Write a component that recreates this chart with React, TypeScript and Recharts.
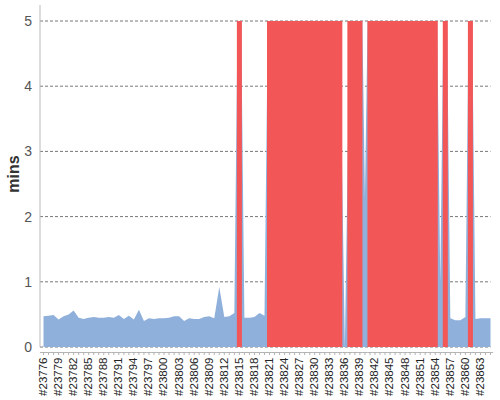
import React from "react";
import { AreaChart, Area, XAxis, YAxis, CartesianGrid } from "recharts";

const builds = [
    "#23776", "#23777", "#23778", "#23779", "#23780", "#23781", "#23782", "#23783", "#23784", "#23785",
    "#23786", "#23787", "#23788", "#23789", "#23790", "#23791", "#23792", "#23793", "#23794", "#23795",
    "#23796", "#23797", "#23798", "#23799", "#23800", "#23801", "#23802", "#23803", "#23804", "#23805",
    "#23806", "#23807", "#23808", "#23809", "#23810", "#23811", "#23812", "#23813", "#23814", "#23815",
    "#23816", "#23817", "#23818", "#23819", "#23820", "#23821", "#23822", "#23823", "#23824", "#23825",
    "#23826", "#23827", "#23828", "#23829", "#23830", "#23831", "#23832", "#23833", "#23834", "#23835",
    "#23836", "#23837", "#23838", "#23839", "#23840", "#23841", "#23842", "#23843", "#23844", "#23845",
    "#23846", "#23847", "#23848", "#23849", "#23850", "#23851", "#23852", "#23853", "#23854", "#23855",
    "#23856", "#23857", "#23858", "#23859", "#23860", "#23861", "#23862", "#23863", "#23864", "#23865",
];

// build time in minutes; failed builds ran past the top of the scale
const durations = [
    0.47, 0.48, 0.49, 0.42, 0.47, 0.5, 0.56, 0.45, 0.43, 0.45,
    0.46, 0.45, 0.45, 0.46, 0.45, 0.49, 0.43, 0.48, 0.42, 0.57,
    0.4, 0.44, 0.43, 0.44, 0.44, 0.45, 0.47, 0.47, 0.4, 0.44,
    0.43, 0.43, 0.46, 0.47, 0.44, 0.92, 0.46, 0.47, 0.52, 7.6,
    0.45, 0.45, 0.46, 0.52, 0.48, 7.4, 7.5, 7.7, 7.3, 7.6,
    7.5, 7.4, 7.8, 7.5, 7.6, 7.3, 7.5, 7.7, 7.4, 5.0,
    0, 5.0, 7.5, 7.6, 2.3, 7.4, 7.5, 7.7, 7.6, 7.3,
    7.5, 7.4, 7.6, 7.5, 7.7, 7.4, 7.5, 7.6, 7.4, 1.0,
    7.5, 0.44, 0.41, 0.41, 0.46, 7.6, 0.43, 0.44, 0.44, 0.44,
];

// failed builds fill the whole height of the chart
const failed = [
    0, 0, 0, 0, 0, 0, 0, 0, 0, 0,
    0, 0, 0, 0, 0, 0, 0, 0, 0, 0,
    0, 0, 0, 0, 0, 0, 0, 0, 0, 0,
    0, 0, 0, 0, 0, 0, 0, 0, 0, 5,
    0, 0, 0, 0, 0, 5, 5, 5, 5, 5,
    5, 5, 5, 5, 5, 5, 5, 5, 5, 5,
    0, 5, 5, 5, 0, 5, 5, 5, 5, 5,
    5, 5, 5, 5, 5, 5, 5, 5, 5, 0,
    5, 0, 0, 0, 0, 5, 0, 0, 0, 0,
];

const yTicks = [0, 1, 2, 3, 4, 5];

const data = builds.map((build, i) => ({ build, duration: durations[i], failed: failed[i] }));

const BuildTick = ({ x, y, payload, index }: any) => {
    const lineY = y + 5.5;
    const labelY = y + 10.5;
    return (
        <g>
            <line x1={index === 0 ? x - 3.5 : x - 2.6} x2={x + 2.6} y1={lineY} y2={lineY} stroke="#b4b4b4" />
            <line x1={x} x2={x} y1={lineY} y2={lineY + 2.5} stroke="#b4b4b4" />
            {index % 3 === 0 && (
                <text
                    x={x}
                    y={labelY}
                    dy="0.3em"
                    transform={`rotate(-90 ${x} ${labelY})`}
                    textAnchor="end"
                    fontSize={11.5}
                    fill="#222"
                >
                    {payload.value}
                </text>
            )}
        </g>
    );
};

const MinsLabel = () => (
    <g>
        <line x1={40} x2={40} y1={5} y2={21} stroke="#bbb" />
        <text
            x={19}
            y={174}
            transform="rotate(-90 19 174)"
            textAnchor="middle"
            fontSize={16}
            fontWeight="bold"
            fill="#333"
        >
            mins
        </text>
    </g>
);

const App = () => {
    return (
        <div style={{ position: "absolute", left: 0, top: 0, fontFamily: "'Liberation Sans', Arial, sans-serif" }}>
            <AreaChart width={500} height={400} data={data} margin={{ top: 21, right: 9.5, bottom: 0, left: 10 }}>
                <CartesianGrid vertical={false} strokeDasharray="3 2" stroke="#777" />
                <XAxis
                    dataKey="build"
                    scale="point"
                    padding={{ left: 3.5, right: 0 }}
                    height={53}
                    interval={0}
                    axisLine={false}
                    tickLine={false}
                    tickSize={0}
                    tickMargin={0}
                    tick={<BuildTick />}
                />
                <YAxis
                    width={30}
                    domain={[0, 5]}
                    ticks={yTicks}
                    allowDataOverflow
                    axisLine={{ stroke: "#bbb" }}
                    tickLine={false}
                    tick={{ fill: "#555", fontSize: 14 }}
                    label={MinsLabel}
                />
                <Area
                    type="linear"
                    dataKey="duration"
                    stroke="none"
                    fill="#8fb0db"
                    fillOpacity={1}
                    isAnimationActive={false}
                />
                <Area
                    type="step"
                    dataKey="failed"
                    stroke="none"
                    fill="#f25656"
                    fillOpacity={1}
                    isAnimationActive={false}
                />
            </AreaChart>
        </div>
    );
};

export default App;
